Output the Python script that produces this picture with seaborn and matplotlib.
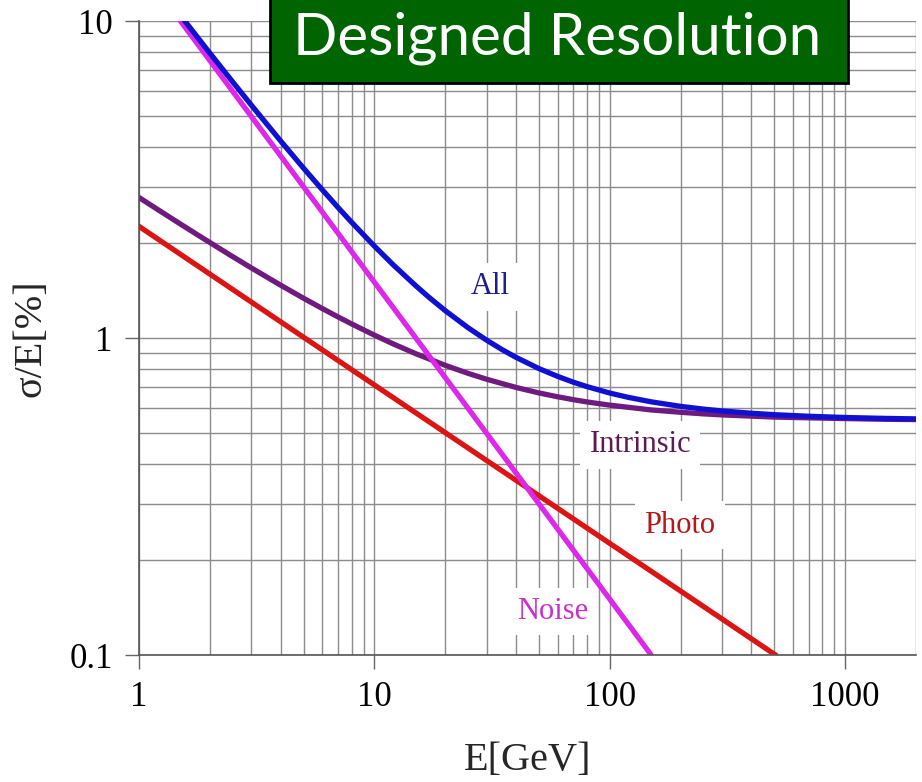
import numpy as np
import pandas as pd
import seaborn as sns
import matplotlib
matplotlib.use("Agg")
import matplotlib.pyplot as plt
from matplotlib.ticker import FixedLocator, LogLocator, NullFormatter
from matplotlib.patches import Rectangle

# Energy resolution contributions, sigma/E in percent, versus beam energy in GeV
energy_intrinsic = [1, 1.25, 1.5, 1.75, 2, 2.5, 3, 4, 5, 6, 7, 8, 10, 12, 15, 20, 25, 30, 40, 50,
                    60, 70, 80, 100, 150, 200, 250, 300, 500, 700, 1000, 1500, 2000]
res_intrinsic = [2.775, 2.4945, 2.288, 2.1287, 2.001, 1.8062, 1.664, 1.4671, 1.335, 1.2393, 1.166,
                 1.1079, 1.021, 0.9587, 0.892, 0.820, 0.7736, 0.741, 0.6982, 0.671,
                 0.6526, 0.639, 0.6285, 0.614, 0.593, 0.583, 0.5763, 0.572, 0.563, 0.560, 0.557,
                 0.554, 0.553]

energy_all = [1.5, 1.75, 2, 2.5, 3, 4, 5, 6, 7, 8, 10, 12, 15, 17, 20, 25, 30, 35, 40, 50, 60,
              70, 80, 100, 120, 150, 200, 250, 300, 400, 500, 700, 1000, 1500, 2000]
res_all = [10.42, 8.994, 7.92, 6.426, 5.43, 4.181, 3.434, 2.938, 2.583, 2.3185, 1.949, 1.704,
           1.461, 1.3468, 1.220, 1.0775, 0.984, 0.9177, 0.8687, 0.801, 0.7568,
           0.7255, 0.7025, 0.6705, 0.6496, 0.629, 0.6086, 0.5966, 0.5887, 0.5789, 0.573,
           0.5664, 0.5614, 0.5576, 0.5557]

energy_photo = [1, 10, 100, 510]
res_photo = [2.25, 0.711, 0.225, 0.0996]

energy_noise = [1.5, 10, 100, 150]
res_noise = [10.0, 1.5, 0.15, 0.1]

x_ticks = [1, 10, 100, 1000]
x_tick_labels = ["1", "10", "100", "1000"]
y_ticks = [0.1, 1, 10]
y_tick_labels = ["0.1", "1", "10"]

curve_labels = ["All", "Intrinsic", "Photo", "Noise"]
label_pos_x = [31, 135, 199, 57]
label_pos_y = [1.45, 0.46, 0.257, 0.137]

line_colors = {"All": "#1010d2", "Intrinsic": "#6e1a7e", "Photo": "#dc1414", "Noise": "#dc28e8"}
text_colors = {"All": "#1e1e8c", "Intrinsic": "#5c1a4e", "Photo": "#b41818", "Noise": "#c832c8"}

sns.set_theme(style="white")
plt.rcParams["font.family"] = ["Liberation Serif", "DejaVu Serif"]

fig = plt.figure(figsize=(9.22, 7.82), dpi=100)
ax = fig.add_axes([139 / 922, 1 - 655 / 782, (916 - 139) / 922, (655 - 21) / 782])

series = {
    "All": (energy_all, res_all),
    "Intrinsic": (energy_intrinsic, res_intrinsic),
    "Photo": (energy_photo, res_photo),
    "Noise": (energy_noise, res_noise),
}
for name in ["Photo", "Intrinsic", "Noise", "All"]:
    xs, ys = series[name]
    df = pd.DataFrame({"E": xs, "res": ys})
    sns.lineplot(data=df, x="E", y="res", ax=ax, color=line_colors[name],
                 linewidth=3.8, estimator=None, sort=False, zorder=2)

ax.set_xscale("log")
ax.set_yscale("log")
ax.set_xlim(1, 2000)
ax.set_ylim(0.1, 10)

ax.xaxis.set_major_locator(FixedLocator(x_ticks))
ax.set_xticklabels(x_tick_labels)
ax.yaxis.set_major_locator(FixedLocator(y_ticks))
ax.set_yticklabels(y_tick_labels)
ax.xaxis.set_minor_locator(LogLocator(base=10, subs=np.arange(2, 10)))
ax.yaxis.set_minor_locator(LogLocator(base=10, subs=np.arange(2, 10)))
ax.xaxis.set_minor_formatter(NullFormatter())
ax.yaxis.set_minor_formatter(NullFormatter())

ax.set_axisbelow(True)
ax.grid(True, which="both", color="#8c8c8c", linewidth=1.0)
ax.tick_params(which="major", direction="out", length=10, width=1.0, color="#666666",
               labelsize=25, pad=9, labelcolor="black", bottom=True, left=True)
ax.tick_params(which="minor", length=0)

for side in ["top", "right"]:
    ax.spines[side].set_visible(False)
for side in ["left", "bottom"]:
    ax.spines[side].set_color("#555555")
    ax.spines[side].set_linewidth(1.2)

ax.set_xlabel("E[GeV]", fontsize=29, labelpad=20)
ax.set_ylabel("σ/E[%]", fontsize=29, labelpad=14)

for name, lx, ly in zip(curve_labels, label_pos_x, label_pos_y):
    ax.text(lx, ly, name, color=text_colors[name], fontsize=22, ha="center", va="center",
            zorder=1.5, bbox=dict(boxstyle="square,pad=0.3", facecolor="white", edgecolor="none"))

# Banner across the top of the chart
fig.patches.append(Rectangle((270 / 922, 1 - 83 / 782), (848 - 270) / 922, 90 / 782,
                             transform=fig.transFigure, facecolor="#006400",
                             edgecolor="black", linewidth=2, zorder=5))
fig.text(557 / 922, 1 - 38 / 782, "Designed Resolution", color="white", fontsize=42,
         family=["Lato", "DejaVu Sans"], ha="center", va="center", zorder=6)

fig.savefig("out.png", dpi=100)
